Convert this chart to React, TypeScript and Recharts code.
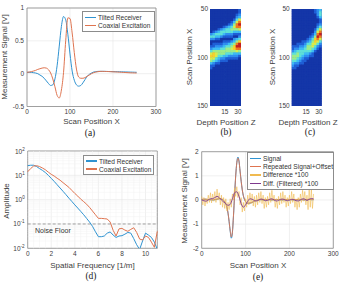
import React from "react";
import {
  CartesianGrid,
  Line,
  LineChart,
  ReferenceArea,
  ReferenceLine,
  Scatter,
  ScatterChart,
  XAxis,
  YAxis,
} from "recharts";

const SANS = '"Liberation Sans", Arial, Helvetica, sans-serif';
const SERIF = '"Liberation Serif", "Times New Roman", serif';
const INK = "#404040";
const FRAME = "#8c8c8c";
const GRID = "#e6e6e6";
const MINOR = "#f2f2f2";
const BLUE = "#2f93d1";
const RED = "#df7450";
const YELLOW = "#f0ba50";
const PURPLE = "#7e3a8e";

// (a) measurement signal along the scan
const scanA = [
  0, 5, 10, 15, 20, 25, 30, 35, 40, 45, 50, 55, 60, 65, 70, 75, 80, 85, 90, 95,
  100, 105, 110, 115, 120, 125, 130, 135, 140, 145, 150, 155, 160, 165, 170, 175,
  180, 185, 190, 195, 200, 205, 210, 215, 220, 225, 230, 235, 240, 245, 250, 255,
];
const tiltedA = [
  0.02, 0.02, 0.02, 0.015, 0.01, 0.0, -0.02, -0.04, -0.07, -0.11,
  -0.15, -0.18, -0.17, -0.08, 0.12, 0.42, 0.72, 0.87, 0.82, 0.6,
  0.3, 0.04, -0.1, -0.17, -0.19, -0.18, -0.14, -0.09, -0.04, -0.01,
  0.01, 0.025, 0.03, 0.035, 0.035, 0.035, 0.035, 0.034, 0.033, 0.032,
  0.031, 0.03, 0.03, 0.029, 0.028, 0.027, 0.026, 0.025, 0.024, 0.023,
  0.022, 0.021,
];
const coaxialA = [
  0.02, 0.025, 0.03, 0.04, 0.05, 0.065, 0.075, 0.085, 0.09, 0.085,
  0.06, 0.01, -0.08, -0.2, -0.33, -0.37, -0.25, 0.02, 0.5, 0.85,
  0.84, 0.62, 0.32, 0.07, -0.05, -0.07, -0.07, -0.06, -0.04, -0.02,
  0.0, 0.015, 0.025, 0.03, 0.035, 0.035, 0.034, 0.033, 0.032, 0.03,
  0.028, 0.027, 0.025, 0.023, 0.021, 0.019, 0.017, 0.015, 0.013, 0.012,
  0.011, 0.01,
];

// (b), (c) intensity maps, one character per cell (0..9), rows from scan 50 to 150
const depthCols = [-0.5, 2.5, 5.4, 8.4, 11.3, 14.3, 17.3, 20.2, 23.2, 26.1, 29.1, 32.0];
const heatB = [
  "000000000001", "000000000001", "000000000012", "000000000023", "000000000146",
  "000000001368", "000000012589", "000001234688", "000123445556", "012344444333",
  "234443222111", "443321111002", "221100000234", "000001112357", "011112234589",
  "112223445799", "233344556788", "455555555565", "676555444333", "776443322221",
  "664322111110", "543211100000", "321100000000", "110000000000", "100000000000",
  "000000000000", "000000000000", "000000000000", "000000000000", "000000000000",
  "000000000000", "000000000000", "000000000000", "000000000000", "000000000000",
  "000000000000", "000000000000", "000000000000", "000000000000", "000000000000",
];
const heatC = [
  "000000000123", "000000000124", "000000000024", "000000000013", "000000000001",
  "000000000001", "000000000012", "000000000024", "000000000146", "000000000268",
  "000000001389", "000000012598", "000000124786", "000011235764", "001112446642",
  "111223556421", "122334554310", "234444443100", "445443321000", "555432211000",
  "554321100000", "443211000000", "322110000000", "211000000000", "110000000000",
  "000000000000", "000000000000", "000000000000", "000000000000", "000000000000",
  "000000000000", "000000000000", "000000000000", "000000000000", "000000000000",
  "000000000000", "000000000000", "000000000000", "000000000000", "000000000000",
];
const JET = [
  "#1436a8", "#1f5fd6", "#2f8ff0", "#3dbcf4", "#5ee0d8",
  "#9cec8c", "#d8ec4c", "#f6d02c", "#f07a20", "#c81e1e",
];

// (d) spatial spectrum
const freqD = [
  0, 0.25, 0.5, 0.75, 1, 1.25, 1.5, 1.75, 2, 2.25, 2.5, 2.75, 3, 3.25, 3.5, 3.75,
  4, 4.25, 4.5, 4.75, 5, 5.25, 5.5, 5.75, 6, 6.25, 6.5, 6.75, 7, 7.25, 7.5, 7.75,
  8, 8.25, 8.5, 8.75, 9, 9.25, 9.5, 9.75, 10, 10.25, 10.5, 10.75, 11,
];
const tiltedD = [
  25, 26, 26, 23, 19, 16, 13, 10, 7.5, 5.6,
  4.1, 3.0, 2.2, 1.6, 1.15, 0.84, 0.61, 0.45, 0.33, 0.24,
  0.17, 0.12, 0.08, 0.048, 0.03, 0.03, 0.032, 0.042, 0.047, 0.035,
  0.028, 0.032, 0.033, 0.038, 0.045, 0.042, 0.025, 0.014, 0.009, 0.02,
  0.042, 0.035, 0.028, 0.018, 0.009,
];
const coaxialD = [
  14, 19, 24, 25, 23, 20, 17, 13.5, 11, 9.3,
  7.6, 6.3, 5.0, 4.0, 3.2, 2.4, 1.8, 1.4, 1.05, 0.83,
  0.65, 0.48, 0.34, 0.24, 0.17, 0.17, 0.165, 0.16, 0.12, 0.055,
  0.032, 0.063, 0.066, 0.056, 0.05, 0.06, 0.07, 0.045, 0.024, 0.022,
  0.032, 0.028, 0.018, 0.011, 0.05,
];
const noiseFloor = 0.1;

// (e) repeatability
const scanE = [
  0, 2.5, 5, 7.5, 10, 12.5, 15, 17.5, 20, 22.5,
  25, 27.5, 30, 32.5, 35, 37.5, 40, 42.5, 45, 47.5,
  50, 52.5, 55, 57.5, 60, 62.5, 65, 67.5, 70, 72.5,
  75, 77.5, 80, 82.5, 85, 87.5, 90, 92.5, 95, 97.5,
  100, 102.5, 105, 107.5, 110, 112.5, 115, 117.5, 120, 122.5,
  125, 127.5, 130, 132.5, 135, 137.5, 140, 142.5, 145, 147.5,
  150, 152.5, 155, 157.5, 160, 162.5, 165, 167.5, 170, 172.5,
  175, 177.5, 180, 182.5, 185, 187.5, 190, 192.5, 195, 197.5,
  200, 202.5, 205, 207.5, 210, 212.5, 215, 217.5, 220, 222.5,
  225, 227.5, 230, 232.5, 235, 237.5, 240, 242.5, 245, 247.5,
  250, 252.5, 255,
];
const signalE = [
  0.02, 0.02, 0.03, 0.03, 0.03, 0.02, 0.02, 0.01, 0.01, 0.0,
  0.0, 0.0, 0.01, 0.02, 0.03, 0.04, 0.05, 0.05, 0.04, 0.02,
  -0.02, -0.08, -0.17, -0.3, -0.55, -0.9, -1.3, -1.58, -1.35, -0.65,
  0.2, 1.0, 1.55, 1.78, 1.62, 1.2, 0.78, 0.42, 0.17, 0.02,
  -0.07, -0.12, -0.14, -0.14, -0.13, -0.12, -0.1, -0.08, -0.06, -0.04,
  -0.02, -0.01, 0.0, 0.01, 0.01, 0.01, 0.0, 0.0, 0.01, 0.01,
  0.02, 0.01, 0.01, 0.0, 0.0, 0.01, 0.01, 0.01, 0.02, 0.02,
  0.01, 0.01, 0.0, 0.0, 0.0, 0.01, 0.01, 0.01, 0.01, 0.02,
  0.01, 0.01, 0.01, 0.0, 0.0, 0.01, 0.01, 0.01, 0.02, 0.02,
  0.01, 0.01, 0.01, 0.0, 0.0, 0.01, 0.01, 0.02, 0.02, 0.02,
  0.01, 0.01, 0.01,
];
const repeatedE = [
  0.03, 0.03, 0.03, 0.04, 0.03, 0.03, 0.02, 0.02, 0.01, 0.01,
  0.01, 0.01, 0.02, 0.03, 0.04, 0.05, 0.06, 0.06, 0.05, 0.03,
  -0.01, -0.07, -0.16, -0.29, -0.53, -0.88, -1.27, -1.53, -1.32, -0.62,
  0.22, 1.0, 1.53, 1.73, 1.6, 1.19, 0.77, 0.42, 0.18, 0.03,
  -0.06, -0.11, -0.13, -0.13, -0.12, -0.11, -0.09, -0.07, -0.05, -0.03,
  -0.01, 0.0, 0.01, 0.02, 0.02, 0.01, 0.01, 0.01, 0.02, 0.02,
  0.02, 0.02, 0.01, 0.01, 0.01, 0.02, 0.02, 0.02, 0.03, 0.02,
  0.02, 0.01, 0.01, 0.01, 0.01, 0.02, 0.02, 0.02, 0.02, 0.03,
  0.02, 0.02, 0.01, 0.01, 0.01, 0.02, 0.02, 0.02, 0.03, 0.03,
  0.02, 0.02, 0.01, 0.01, 0.01, 0.02, 0.02, 0.03, 0.03, 0.03,
  0.02, 0.02, 0.02,
];
const diffE = [
  0.15, -0.2, 0.1, -0.25, 0.05, -0.15, 0.2, -0.1, 0.3, -0.12,
  0.25, -0.05, 0.35, -0.1, 0.45, 0.0, 0.3, -0.2, 0.2, -0.3,
  0.1, -0.35, 0.05, -0.45, -0.1, -0.4, 0.05, -0.3, 0.25, 0.0,
  0.5, 0.15, 0.55, 0.1, 0.35, -0.2, 0.1, -0.5, -0.1, -0.45,
  0.05, -0.3, 0.2, -0.2, 0.3, -0.15, 0.25, -0.25, 0.15, -0.3,
  0.2, -0.2, 0.3, -0.1, 0.35, -0.15, 0.2, -0.35, 0.1, -0.3,
  0.15, -0.2, 0.3, -0.1, 0.4, -0.05, 0.2, -0.3, 0.05, -0.35,
  0.15, -0.2, 0.3, -0.15, 0.35, -0.1, 0.2, -0.3, 0.1, -0.25,
  0.2, -0.15, 0.35, -0.1, 0.25, -0.3, 0.05, -0.4, 0.1, -0.3,
  0.25, -0.1, 0.4, -0.05, 0.35, -0.2, 0.2, -0.4, 0.5, -0.3,
  0.45, -0.35, 0.25,
];
const scanEF = [
  0, 5, 10, 15, 20, 25, 30, 35, 40, 45, 50, 55, 60, 65, 70, 75, 80, 85, 90, 95,
  100, 105, 110, 115, 120, 125, 130, 135, 140, 145, 150, 155, 160, 165, 170, 175,
  180, 185, 190, 195, 200, 205, 210, 215, 220, 225, 230, 235, 240, 245, 250, 255,
];
const filteredE = [
  0.0, -0.03, -0.05, 0.0, 0.05, 0.06, 0.1, 0.15, 0.1, 0.0,
  -0.08, -0.15, -0.22, -0.18, 0.05, 0.3, 0.34, 0.15, -0.15, -0.3,
  -0.2, -0.05, 0.05, 0.03, -0.02, -0.04, 0.0, 0.04, 0.02, -0.03,
  -0.02, 0.03, 0.05, 0.0, -0.04, -0.02, 0.03, 0.04, 0.0, -0.03,
  -0.01, 0.03, 0.02, -0.03, -0.04, 0.0, 0.05, 0.04, -0.02, 0.03,
  0.06, 0.05,
];

const tick = { fontSize: 6.5, fill: INK, fontFamily: SANS };

const rowsA = scanA.map((x, i) => ({ x, tilted: tiltedA[i], coaxial: coaxialA[i] }));
const rowsD = freqD.map((f, i) => ({ f, tilted: tiltedD[i], coaxial: coaxialD[i] }));
const signalRows = scanE.map((x, i) => ({ x, y: signalE[i] }));
const repeatedRows = scanE.map((x, i) => ({ x, y: repeatedE[i] }));
const diffRows = scanE.map((x, i) => ({ x, y: diffE[i] }));
const filteredRows = scanEF.map((x, i) => ({ x, y: filteredE[i] }));

function toCells(rows: string[]) {
  const out: { z: number; x: number; v: number }[] = [];
  rows.forEach((row, r) => {
    for (let c = 0; c < row.length; c++) {
      out.push({ z: depthCols[c], x: 50 + r * 2.5 + 1.25, v: Number(row[c]) });
    }
  });
  return out;
}

const cellsB = toCells(heatB);
const cellsC = toCells(heatC);

const cellShape = (w: number, h: number) => (p: any) => {
  const v = p?.payload?.v ?? p?.v ?? 0;
  return <rect x={p.cx - w / 2} y={p.cy - h / 2} width={w} height={h} fill={JET[v]} />;
};

function Text({ x, y, children, rotate, size = 8, serif }: any) {
  return (
    <div
      style={{
        position: "absolute",
        left: x,
        top: y,
        transform: `translate(-50%, -50%)${rotate ? " rotate(-90deg)" : ""}`,
        whiteSpace: "nowrap",
        fontSize: size,
        fontFamily: serif ? SERIF : SANS,
        color: serif ? "#222" : INK,
        lineHeight: 1,
      }}
    >
      {children}
    </div>
  );
}

function LegendBox({ left, top, width, rowH, items }: any) {
  return (
    <div
      style={{
        position: "absolute",
        left,
        top,
        width,
        border: `1px solid ${FRAME}`,
        background: "#fff",
        boxSizing: "border-box",
        fontFamily: SANS,
        fontSize: 6.6,
        color: "#333",
        padding: "1px 0",
      }}
    >
      {items.map((it: any) => (
        <div key={it.label} style={{ display: "flex", alignItems: "center", height: rowH, whiteSpace: "nowrap" }}>
          <span style={{ display: "inline-block", width: 11, height: 1.2, background: it.color, margin: "0 2px 0 2px" }} />
          {it.label}
        </div>
      ))}
    </div>
  );
}

function PowTick(props: any) {
  const { x, y, payload } = props;
  const e = Math.round(Math.log10(payload.value));
  return (
    <text x={x} y={y} dy={2.5} textAnchor="end" fontSize={6.5} fill={INK} fontFamily={SANS}>
      <tspan>10</tspan>
      <tspan dy={-3} fontSize={4.6}>{e}</tspan>
    </text>
  );
}

const minorY = [0.02, 0.03, 0.04, 0.05, 0.06, 0.07, 0.08, 0.09, 0.2, 0.3, 0.4, 0.5, 0.6, 0.7, 0.8, 0.9, 2, 3, 4, 5, 6, 7, 8, 9, 20, 30, 40, 50, 60, 70, 80, 90];
const minorX = [0.5, 1, 1.5, 2.5, 3, 3.5, 4.5, 5, 5.5, 6.5, 7, 7.5, 8.5, 9, 9.5, 10.5];

const axisCommon = { axisLine: false, tickLine: false, tickSize: 0, interval: 0 as const, tick };

function Heatmap({ cells, width, yWidth, right, extraLine }: any) {
  const plotW = width - yWidth - right;
  const w = (plotW / 35.5) * 2.958 + 0.5;
  const h = 2.425 + 0.5;
  return (
    <ScatterChart width={width} height={128} margin={{ top: 9, right, bottom: 2, left: 0 }}>
      <XAxis type="number" dataKey="z" domain={[-2, 33.5]} ticks={[15, 30]} allowDataOverflow
        {...axisCommon} tickMargin={3} height={20} />
      <YAxis type="number" dataKey="x" domain={[50, 150]} ticks={[50, 100, 150]} reversed allowDataOverflow
        {...axisCommon} tickMargin={2} width={yWidth} />
      <ReferenceArea x1={-2} x2={33.5} y1={50} y2={150} fill={JET[0]} fillOpacity={1} stroke="none" />
      <Scatter data={cells} shape={cellShape(w, h)} isAnimationActive={false} />
      <ReferenceLine x={15} stroke="#6fd6e8" strokeWidth={0.8} strokeDasharray="3 2" />
      {extraLine ? <ReferenceLine x={extraLine} stroke="#8cc4ee" strokeWidth={0.6} /> : null}
    </ScatterChart>
  );
}

export default function App() {
  return (
    <div
      style={{
        position: "absolute",
        left: 0,
        top: 0,
        width: 340,
        height: 287,
        background: "#fff",
        overflow: "hidden",
        fontFamily: SANS,
      }}
    >
      {/* (a) */}
      <div style={{ position: "absolute", left: 0, top: 0 }}>
        <LineChart width={170} height={128} data={rowsA} margin={{ top: 8, right: 14, bottom: 1.5, left: 0 }}>
          <CartesianGrid stroke={GRID} strokeWidth={0.6} />
          <XAxis type="number" dataKey="x" domain={[0, 300]} ticks={[0, 100, 200, 300]}
            {...axisCommon} tickMargin={3} height={20} />
          <YAxis type="number" domain={[-0.5, 1]} ticks={[-0.5, 0, 0.5, 1]}
            {...axisCommon} tickMargin={3} width={27} />
          <ReferenceArea x1={0} x2={300} y1={-0.5} y2={1} fill="none" stroke={FRAME} strokeWidth={0.8} />
          <Line type="monotone" dataKey="tilted" stroke={BLUE} strokeWidth={1} dot={false} isAnimationActive={false} />
          <Line type="monotone" dataKey="coaxial" stroke={RED} strokeWidth={1} dot={false} isAnimationActive={false} />
        </LineChart>
      </div>
      <LegendBox left={82} top={11} width={73} rowH={8.5}
        items={[{ label: "Tilted Receiver", color: BLUE }, { label: "Coaxial Excitation", color: RED }]} />
      <Text x={5} y={57} rotate>Measurement Signal [V]</Text>
      <Text x={91.5} y={122}>Scan Position X</Text>
      <Text x={90} y={134} size={9.5} serif>(a)</Text>

      {/* (b) */}
      <div style={{ position: "absolute", left: 170, top: 0 }}>
        <Heatmap cells={cellsB} width={80} yWidth={40} right={9} />
      </div>
      <Text x={190} y={57} rotate>Scan Position X</Text>
      <Text x={226} y={122.5}>Depth Position Z</Text>
      <Text x={226} y={133} size={9.5} serif>(b)</Text>

      {/* (c) */}
      <div style={{ position: "absolute", left: 255, top: 0 }}>
        <Heatmap cells={cellsC} width={85} yWidth={36.7} right={18.3} extraLine={28} />
      </div>
      <Text x={273} y={57} rotate>Scan Position X</Text>
      <Text x={308} y={122.5}>Depth Position Z</Text>
      <Text x={310} y={133} size={9.5} serif>(c)</Text>

      {/* (d) */}
      <div style={{ position: "absolute", left: 0, top: 140 }}>
        <LineChart width={170} height={130} data={rowsD} margin={{ top: 11, right: 12.7, bottom: 1.7, left: 0 }}>
          {minorY.map((v) => (
            <ReferenceLine key={`my${v}`} y={v} stroke={MINOR} strokeWidth={0.5} />
          ))}
          {minorX.map((v) => (
            <ReferenceLine key={`mx${v}`} x={v} stroke={MINOR} strokeWidth={0.5} />
          ))}
          <CartesianGrid stroke={GRID} strokeWidth={0.6} />
          <XAxis type="number" dataKey="f" domain={[0, 11]} ticks={[0, 2, 4, 6, 8, 10]}
            {...axisCommon} tickMargin={3} height={20} />
          <YAxis type="number" scale="log" domain={[0.01, 100]} ticks={[0.01, 0.1, 1, 10, 100]} allowDataOverflow
            {...axisCommon} tickMargin={3} tick={<PowTick />} width={27.7} />
          <ReferenceLine y={noiseFloor} stroke="#8a8a8a" strokeWidth={0.8} strokeDasharray="3 2" />
          <ReferenceArea x1={0} x2={11} y1={0.01} y2={100} fill="none" stroke={FRAME} strokeWidth={0.8} />
          <Line type="linear" dataKey="tilted" stroke={BLUE} strokeWidth={1} dot={false} isAnimationActive={false} />
          <Line type="linear" dataKey="coaxial" stroke={RED} strokeWidth={1} dot={false} isAnimationActive={false} />
        </LineChart>
      </div>
      <LegendBox left={83} top={155} width={71} rowH={8}
        items={[{ label: "Tilted Receiver", color: BLUE }, { label: "Coaxial Excitation", color: RED }]} />
      <div style={{ position: "absolute", left: 35, top: 227, fontSize: 7, color: "#333", fontFamily: SANS, whiteSpace: "nowrap" }}>
        Noise Floor
      </div>
      <Text x={6.5} y={201} rotate>Amplitude</Text>
      <Text x={92.5} y={266}>Spatial Frequency [1/m]</Text>
      <Text x={91} y={277} size={9.5} serif>(d)</Text>

      {/* (e) */}
      <div style={{ position: "absolute", left: 170, top: 140 }}>
        <LineChart width={170} height={130} margin={{ top: 11.7, right: 6.7, bottom: 1.7, left: 0 }}>
          <CartesianGrid stroke={GRID} strokeWidth={0.6} />
          <XAxis type="number" dataKey="x" domain={[0, 300]} ticks={[0, 100, 200, 300]} allowDuplicatedCategory={false}
            {...axisCommon} tickMargin={3} height={20} />
          <YAxis type="number" domain={[-2, 2]} ticks={[-2, -1, 0, 1, 2]}
            {...axisCommon} tickMargin={3} width={31.7} />
          <ReferenceArea x1={0} x2={300} y1={-2} y2={2} fill="none" stroke={FRAME} strokeWidth={0.8} />
          <Line data={signalRows} type="monotone" dataKey="y" stroke={BLUE} strokeWidth={1} dot={false} isAnimationActive={false} />
          <Line data={repeatedRows} type="monotone" dataKey="y" stroke={RED} strokeWidth={0.9} dot={false} isAnimationActive={false} />
          <Line data={diffRows} type="linear" dataKey="y" stroke={YELLOW} strokeWidth={0.6} dot={false} isAnimationActive={false} />
          <Line data={filteredRows} type="monotone" dataKey="y" stroke={PURPLE} strokeWidth={0.9} dot={false} isAnimationActive={false} />
        </LineChart>
      </div>
      <LegendBox left={247} top={152} width={87} rowH={8.4}
        items={[
          { label: "Signal", color: BLUE },
          { label: "Repeated Signal+Offset", color: RED },
          { label: "Difference *100", color: YELLOW },
          { label: "Diff. (Filtered) *100", color: PURPLE },
        ]} />
      <Text x={185} y={201} rotate>Measurement Signal [V]</Text>
      <Text x={258} y={266}>Scan Position X</Text>
      <Text x={258} y={278} size={9.5} serif>(e)</Text>
    </div>
  );
}
